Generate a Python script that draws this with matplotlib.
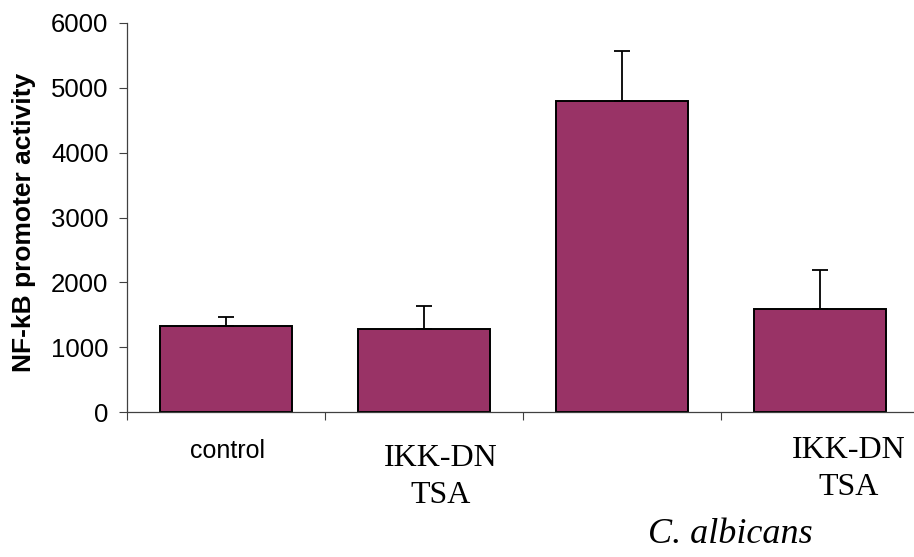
import matplotlib
matplotlib.use('Agg')
from matplotlib import pyplot as plt

# data
conditions = ['control', 'IKK-DN\nTSA', '', 'IKK-DN\nTSA']
activity = [1323, 1282, 4795, 1596]
err_up = [149, 349, 770, 592]

# free-standing label positions (x in category units, baseline y in data units)
label_x = [0.01, 1.086, 2.5, 3.146]
label_y = [[-704], [-827, -1397], [], [-704, -1274]]

fig = plt.figure(figsize=(9.14, 5.57), dpi=100)
# axes extends a bit past the right edge like the original
ax = fig.add_axes([127/914, 1 - 412.3/557, 792/914, (412.3 - 22.7)/557])

x = range(len(activity))
ax.bar(x, activity, width=0.67, color='#993366', edgecolor='black', linewidth=1.4, zorder=2)
ax.errorbar(x, activity, yerr=[[0]*len(err_up), err_up], fmt='none', ecolor='black',
            elinewidth=1.3, capsize=6, capthick=1.3, zorder=3)

ax.set_xlim(-0.5, 3.5)
ax.set_ylim(0, 6000)
ax.set_yticks(range(0, 6001, 1000))
ax.set_yticklabels([str(v) for v in range(0, 6001, 1000)], fontsize=18.5,
                   fontfamily='Liberation Sans')
ax.tick_params(axis='y', length=5.8, width=0.8, color='#404040', pad=7.5)
ax.set_xticks([-0.5, 0.5, 1.5, 2.5])
ax.set_xticklabels([])
ax.tick_params(axis='x', length=5.8, width=0.8, color='#404040')

for s in ['top', 'right']:
    ax.spines[s].set_visible(False)
for s in ['left', 'bottom']:
    ax.spines[s].set_color('#404040')
    ax.spines[s].set_linewidth(0.9)

# category labels: control in Arial, the rest in Times
for i, lab in enumerate(conditions):
    if not lab:
        continue
    lines = lab.split('\n')
    for line, yy in zip(lines, label_y[i]):
        if lab == 'control':
            ax.text(label_x[i], yy, line, ha='center', va='baseline', fontsize=18,
                    fontfamily='Liberation Sans', clip_on=False)
        else:
            ax.text(label_x[i], yy, line, ha='center', va='baseline', fontsize=23,
                    fontfamily='Liberation Serif', clip_on=False)

ax.text(2.548, -2014, 'C. albicans', ha='center', va='baseline', fontsize=26,
        fontfamily='Liberation Serif', style='italic', clip_on=False)

fig.text(24/914, 1 - 222.5/557, 'NF-kB promoter activity', rotation=90, ha='center',
         va='center', fontsize=19, fontweight='bold', fontfamily='Liberation Sans')

fig.savefig('out.png', dpi=100)
